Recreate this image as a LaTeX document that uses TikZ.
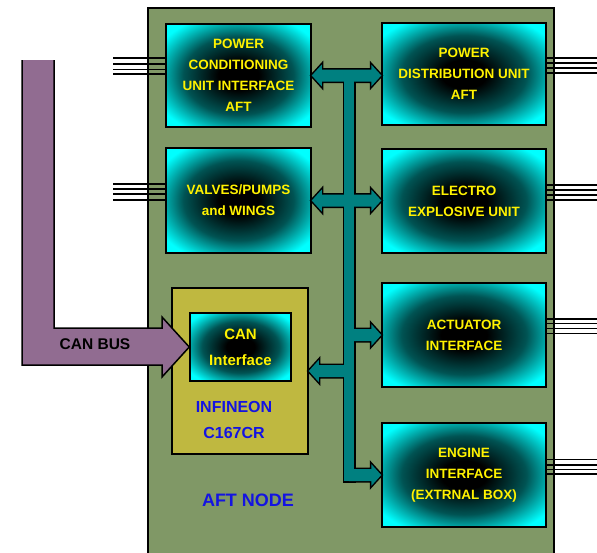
\documentclass[tikz,border=0pt]{standalone}
\usepackage{fontspec}
\setmainfont{Liberation Sans}
\usetikzlibrary{calc}

\definecolor{nodegreen}{RGB}{128,152,102}
\definecolor{chipolive}{RGB}{191,184,64}
\definecolor{buspurple}{RGB}{145,108,145}
\definecolor{busteal}{RGB}{0,128,128}
\definecolor{labelblue}{RGB}{20,20,225}

% dark centre fading out to cyan
\pgfdeclareradialshading{glow}{\pgfpointorigin}{color(0bp)=(black); color(7bp)=(black); color(19bp)=(busteal!65!black); color(31bp)=(cyan); color(50bp)=(cyan)}

% double headed bus arrow, left node to right node
\newcommand{\busdbl}[3]{%
  \path[#1] let \p1=(#2), \p2=(#3) in
    (\x1,\y1) -- ({\x1+10pt},{\y1+11pt}) -- ({\x1+10pt},{\y1+6pt}) -- ({\x2-10pt},{\y1+6pt})
    -- ({\x2-10pt},{\y1+11pt}) -- (\x2,\y1) -- ({\x2-10pt},{\y1-11pt}) -- ({\x2-10pt},{\y1-6pt})
    -- ({\x1+10pt},{\y1-6pt}) -- ({\x1+10pt},{\y1-11pt}) -- cycle;}
% single headed bus arrow, from the trunk to a node
\newcommand{\busone}[3]{%
  \path[#1] let \p1=(#2), \p2=(#3), \n1={ifthenelse(\x2>\x1,1,-1)} in
    (\x1,{\y2+6pt}) -- ({\x2-(\n1)*10pt},{\y2+6pt}) -- ({\x2-(\n1)*10pt},{\y2+11pt}) -- (\x2,\y2)
    -- ({\x2-(\n1)*10pt},{\y2-11pt}) -- ({\x2-(\n1)*10pt},{\y2-6pt}) -- (\x1,{\y2-6pt}) -- cycle;}
% whole internal bus
\newcommand{\busall}[1]{%
  \busdbl{#1}{pcu.east}{pdu.west}
  \busdbl{#1}{valves.east}{eeu.west}
  \path[#1] (344,69.5) rectangle (354,481);
  \busone{#1}{trunk}{act.west}
  \busone{#1}{trunk}{infineon.east}
  \busone{#1}{trunk}{eng.west}}

\begin{document}
\begin{tikzpicture}[
    x=1pt, y=-1pt,
    unit/.style={draw=black, line width=1.5pt, shading=glow, text=yellow, align=center, inner sep=0pt,
      font=\bfseries\fontsize{13.5}{21}\selectfont},
    wire/.style={black, line width=1.4pt},
    bluelabel/.style={text=labelblue, align=center, font=\bfseries\fontsize{16}{26}\selectfont},
  ]
  \useasboundingbox (0,0) rectangle (597,552);
  \clip (0,0) rectangle (597,552);

  % node body
  \draw[line width=1.5pt, fill=nodegreen] (148,8) rectangle (554,570);

  % wires leaving the units
  \foreach \y in {58,64,69.5,74} \draw[wire] (113,\y) -- (166,\y);
  \foreach \y in {184,189,194,200} \draw[wire] (113,\y) -- (166,\y);
  \foreach \y in {58,63,68,73} \draw[wire] (546,\y) -- (600,\y);
  \foreach \y in {185,190,195,200} \draw[wire] (546,\y) -- (600,\y);
  \foreach \y in {319,323.5,328.5,333.5} \draw[wire] (546,\y) -- (600,\y);
  \foreach \y in {459.5,465,469.5,474} \draw[wire] (546,\y) -- (600,\y);

  % processor board
  \node[draw=black, line width=1.5pt, fill=chipolive, minimum width=136pt, minimum height=166pt] (infineon) at (240,371) {};
  \node[bluelabel] (chipname) at (234,420) {INFINEON\\C167CR};
  \node[text=labelblue, font=\bfseries\fontsize{18}{20}\selectfont] (nodename) at (248,500) {AFT NODE};

  % units
  \node[unit, minimum width=145pt, minimum height=103pt] (pcu) at (238.5,75.5) {POWER\\CONDITIONING\\UNIT INTERFACE\\AFT};
  \node[unit, minimum width=145pt, minimum height=105pt] (valves) at (238.5,200.5) {VALVES/PUMPS\\and WINGS};
  \node[unit, minimum width=164pt, minimum height=102pt] (pdu) at (464,74) {POWER\\DISTRIBUTION UNIT\\AFT};
  \node[unit, minimum width=164pt, minimum height=104pt] (eeu) at (464,201) {ELECTRO\\EXPLOSIVE UNIT};
  \node[unit, minimum width=164pt, minimum height=104pt] (act) at (464,335) {ACTUATOR\\INTERFACE};
  \node[unit, minimum width=164pt, minimum height=104pt] (eng) at (464,475) {ENGINE\\INTERFACE\\(EXTRNAL BOX)};
  \node[unit, minimum width=101pt, minimum height=68pt, font=\bfseries\fontsize{15}{26}\selectfont] (canif) at (240.5,347) {CAN\\Interface};

  % CAN bus feed
  \path[fill=buspurple, draw=black, line width=1.5pt] (54,60) -- (54,328) -- (162,328) -- (162,317) -- (canif.west)
    -- (162,377) -- (162,365) -- (22,365) -- (22,60);
  \node[font=\bfseries\fontsize{15.5}{18}\selectfont] (canlabel) at (95,344) {CAN BUS};

  % internal bus
  \coordinate (trunk) at (349,300);
  \busall{draw=black, line width=3pt}
  \busall{fill=busteal}
\end{tikzpicture}
\end{document}
